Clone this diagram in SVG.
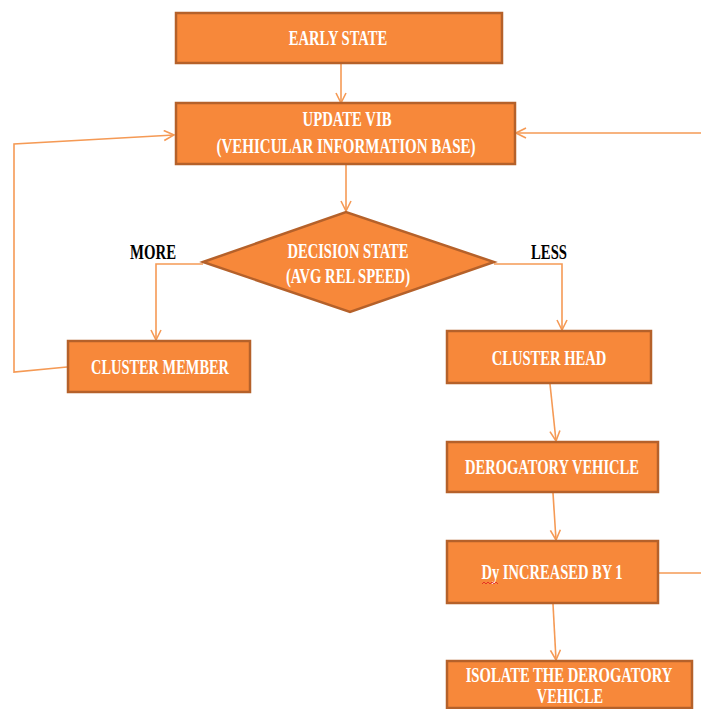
<svg xmlns="http://www.w3.org/2000/svg" width="701" height="709" viewBox="0 0 701 709">
<style>
.box{fill:#F7883A;stroke:#B5612A;stroke-width:2.5}
.t{font-family:"Liberation Serif","Times New Roman",serif;font-weight:bold;font-size:20px;fill:#FFFFFF;text-anchor:middle}
.lbl{font-family:"Liberation Serif","Times New Roman",serif;font-weight:bold;font-size:20px;fill:#000000;text-anchor:middle}
.c{fill:none;stroke:#F59A55;stroke-width:1.6}
</style>
<defs>
<marker id="a" viewBox="0 0 12 12" refX="11" refY="6" markerWidth="12" markerHeight="12" markerUnits="userSpaceOnUse" orient="auto">
<path d="M1,1 L11,6 L1,11" fill="none" stroke="#F59A55" stroke-width="1.6"/>
</marker>
</defs>
<rect width="701" height="709" fill="#FFFFFF"/>
<g id="connectors">
<path class="c" d="M341,63 L341,103" marker-end="url(#a)"/>
<path class="c" d="M701,133 L516,133" marker-end="url(#a)"/>
<path class="c" d="M346,164 L346,211" marker-end="url(#a)"/>
<path class="c" d="M203,264 L156,264 L156,340" marker-end="url(#a)"/>
<path class="c" d="M494,264 L562,264 L562,330" marker-end="url(#a)"/>
<path class="c" d="M67,367 L14,372 L14,144 L174,135" marker-end="url(#a)"/>
<path class="c" d="M550,384 L556,441" marker-end="url(#a)"/>
<path class="c" d="M553,493 L556,540" marker-end="url(#a)"/>
<path class="c" d="M658,573 L701,573"/>
<path class="c" d="M553,604 L556,660" marker-end="url(#a)"/>
</g>
<g id="early-state">
<rect class="box" x="176" y="13" width="326" height="50"/>
<text class="t" transform="translate(338,45) scale(0.78,1)" x="0" y="0" textLength="126" lengthAdjust="spacingAndGlyphs">EARLY STATE</text>
</g>
<g id="update-vib">
<rect class="box" x="176" y="103" width="339" height="61"/>
<text class="t" transform="translate(347,126) scale(0.78,1)" x="0" y="0" textLength="114" lengthAdjust="spacingAndGlyphs">UPDATE VIB</text>
<text class="t" transform="translate(346,153) scale(0.78,1)" x="0" y="0" textLength="332" lengthAdjust="spacingAndGlyphs">(VEHICULAR  INFORMATION  BASE)</text>
</g>
<g id="decision-state">
<polygon class="box" points="203,262 346,212 494,262 350,312"/>
<text class="t" transform="translate(348,258) scale(0.78,1)" x="0" y="0" textLength="155" lengthAdjust="spacingAndGlyphs">DECISION STATE</text>
<text class="t" transform="translate(348,283) scale(0.78,1)" x="0" y="0" textLength="159" lengthAdjust="spacingAndGlyphs">(AVG REL SPEED)</text>
</g>
<g id="label-more">
<text class="lbl" transform="translate(153,259) scale(0.78,1)" x="0" y="0" textLength="59" lengthAdjust="spacingAndGlyphs">MORE</text>
</g>
<g id="label-less">
<text class="lbl" transform="translate(549,259) scale(0.78,1)" x="0" y="0" textLength="46" lengthAdjust="spacingAndGlyphs">LESS</text>
</g>
<g id="cluster-member">
<rect class="box" x="68" y="341" width="182" height="51"/>
<text class="t" transform="translate(160,374) scale(0.78,1)" x="0" y="0" textLength="177" lengthAdjust="spacingAndGlyphs">CLUSTER MEMBER</text>
</g>
<g id="cluster-head">
<rect class="box" x="447" y="331" width="204" height="52"/>
<text class="t" transform="translate(549,365) scale(0.78,1)" x="0" y="0" textLength="147" lengthAdjust="spacingAndGlyphs">CLUSTER HEAD</text>
</g>
<g id="derogatory-vehicle">
<rect class="box" x="447" y="442" width="211" height="50"/>
<text class="t" transform="translate(552,474) scale(0.78,1)" x="0" y="0" textLength="223" lengthAdjust="spacingAndGlyphs">DEROGATORY VEHICLE</text>
</g>
<g id="dy-increased">
<rect class="box" x="447" y="541" width="211" height="62"/>
<text class="t" transform="translate(552,579) scale(0.78,1)" x="0" y="0" textLength="181" lengthAdjust="spacingAndGlyphs">Dy INCREASED BY 1</text>
<path d="M482,584 l2,-2 l2,2 l2,-2 l2,2 l2,-2 l2,2 l2,-2 l2,2" fill="none" stroke="#E02020" stroke-width="0.8"/>
</g>
<g id="isolate">
<rect class="box" x="447" y="661" width="245" height="47"/>
<text class="t" transform="translate(569,682) scale(0.78,1)" x="0" y="0" textLength="265" lengthAdjust="spacingAndGlyphs">ISOLATE THE DEROGATORY</text>
<text class="t" transform="translate(570,703) scale(0.78,1)" x="0" y="0" textLength="85" lengthAdjust="spacingAndGlyphs">VEHICLE</text>
</g>
</svg>
